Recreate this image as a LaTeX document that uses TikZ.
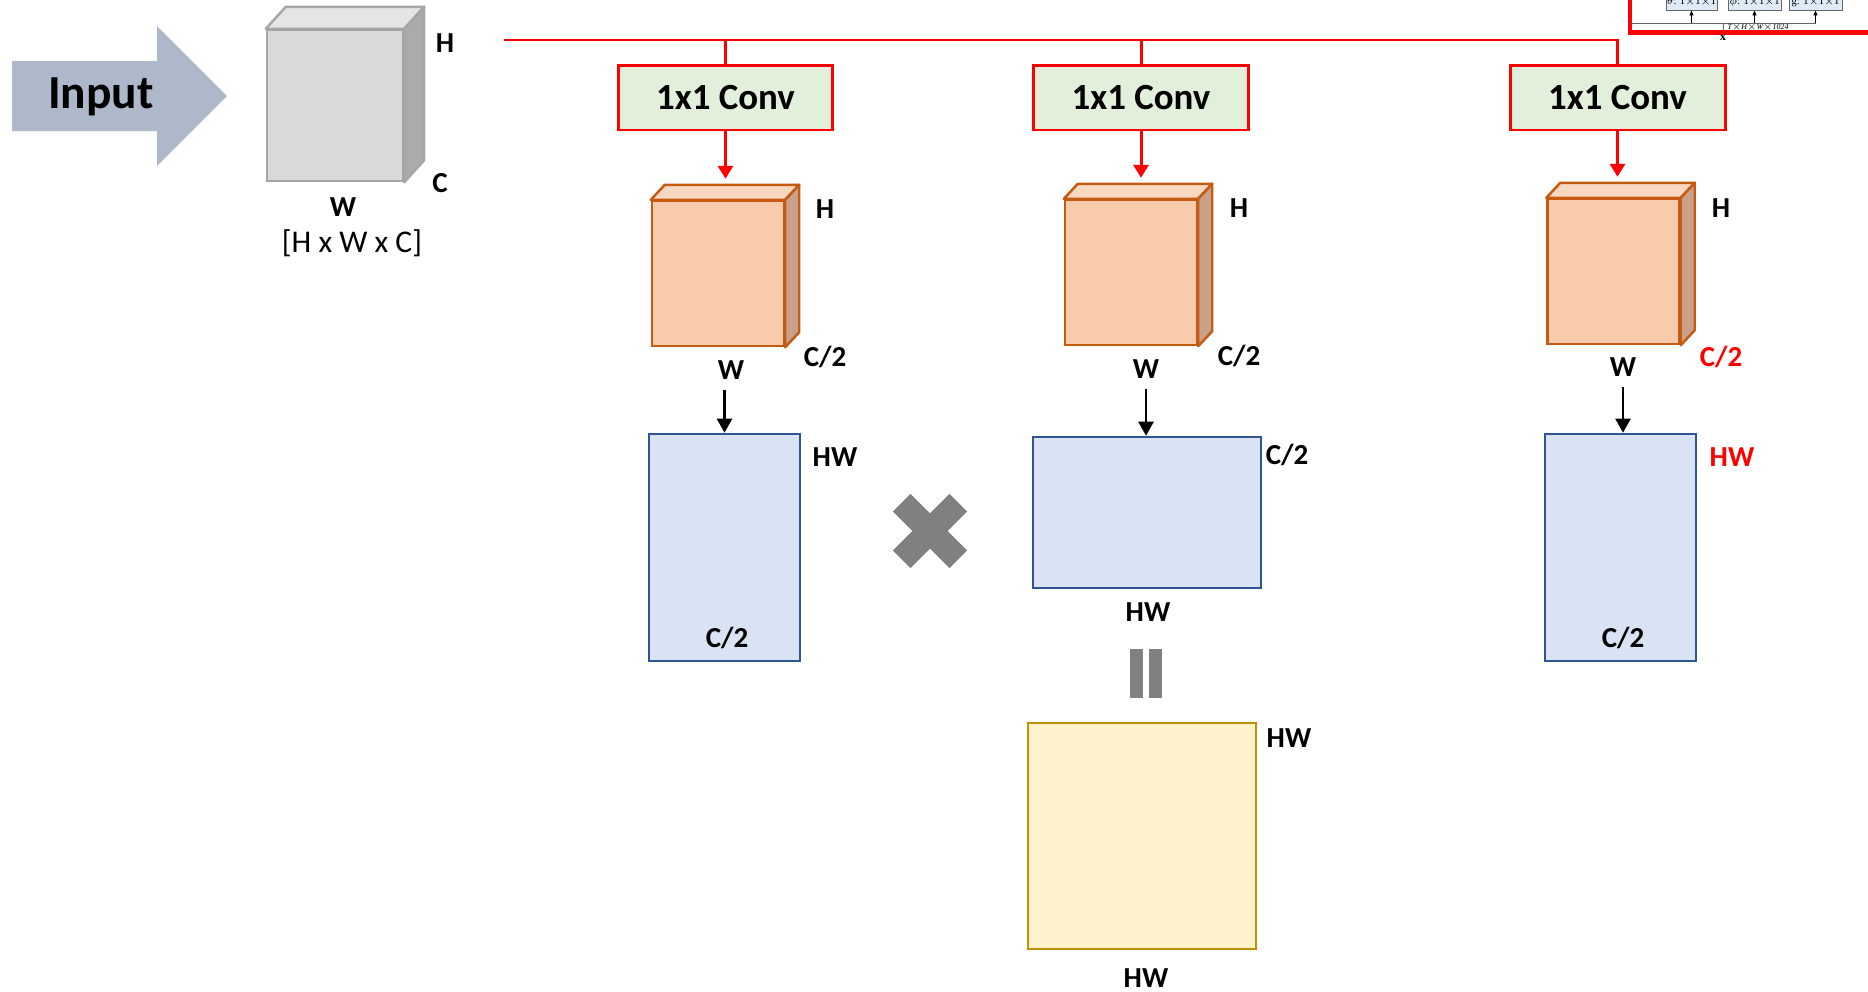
\documentclass[tikz,border=0pt]{standalone}
\usepackage{fontspec}
\setmainfont{Carlito}
\newfontfamily\insetfont{Liberation Serif}
\usetikzlibrary{positioning, calc, arrows.meta}

\definecolor{inputblue}{HTML}{ADB9CA}
\definecolor{convgreen}{HTML}{E2EFDA}
\definecolor{featorange}{HTML}{F8CBAD}
\definecolor{feattop}{HTML}{F9D8C1}
\definecolor{featside}{HTML}{C9A18A}
\definecolor{featedge}{HTML}{C55A11}
\definecolor{matblue}{HTML}{DAE3F3}
\definecolor{matedge}{HTML}{2F5597}
\definecolor{attnyellow}{HTML}{FFF2CC}
\definecolor{attnedge}{HTML}{BF9000}
\definecolor{signgray}{HTML}{808080}
\definecolor{insetblue}{HTML}{DEEBF7}

% top and side faces of a block, drawn on its front node
\newcommand{\cubefaces}[6]{%
  \filldraw[fill=#4, draw=#6, line width=1.4pt, line join=round]
    (#1.north west) -- ++(#2,#3) -- ($(#1.north east)+(#2,#3)$) -- (#1.north east) -- cycle;
  \filldraw[fill=#5, draw=#6, line width=1.4pt, line join=round]
    (#1.north east) -- ++(#2,#3) -- ($(#1.south east)+(#2,#3)$) -- (#1.south east) -- cycle;
}

\begin{document}
\begin{tikzpicture}[x=0.02cm, y=-0.02cm,
  lbl/.style={font=\fontsize{16.5}{19}\selectfont\bfseries, inner sep=0pt},
  conv/.style={draw=red, line width=1.7pt, fill=convgreen, minimum width=4.3cm,
    minimum height=1.3cm, inner sep=0pt, font=\fontsize{21}{24}\selectfont\bfseries},
  feat/.style={draw=featedge, fill=featorange, line width=1.4pt, minimum width=2.64cm,
    minimum height=2.9cm, inner sep=0pt},
  mat/.style={draw=matedge, fill=matblue, line width=1.5pt, inner sep=0pt},
  redline/.style={red, line width=1.7pt},
  redarrow/.style={red, line width=1.7pt, -{Triangle[width=0.3cm,length=0.26cm]}},
  blackarrow/.style={black, line width=1.4pt, -{Triangle[width=0.3cm,length=0.28cm]}},
  sign/.style={fill=signgray, inner sep=0pt}]
  \useasboundingbox (0,0) rectangle (1868,991);

  % input arrow and input block
  \fill[inputblue] (12,61) -- (157,61) -- (157,26) -- (227,96) -- (157,166) -- (157,131) -- (12,131) -- cycle;
  \node[font=\fontsize{27}{30}\selectfont\bfseries, inner sep=0pt] (input) at (101,97) {Input};

  \node[draw=black!35, fill=black!15, line width=1.4pt, minimum width=2.72cm,
    minimum height=3.02cm, inner sep=0pt] (in) at (335,105.5) {};
  \cubefaces{in}{20}{-22}{black!10}{black!33}{black!35}
  \node[lbl] (inH) at (445,43) {H};
  \node[lbl] (inC) at (440,183) {C};
  \node[lbl] (inW) at (343,207) {W};
  \node[font=\fontsize{18}{21}\selectfont, inner sep=0pt] (indim) at (352,243) {[H x W x C]};

  % three 1x1 convolutions
  \coordinate (split) at (504,40);
  \node[conv] (conv1) at (725.5,97.5) {1x1 Conv};
  \node[conv] (conv2) at (1141,97.5) {1x1 Conv};
  \node[conv] (conv3) at (1617.5,97.5) {1x1 Conv};

  \draw[redline] (split) -| (conv3.north);
  \draw[redline] (conv1.north) -- (conv1.north |- split);
  \draw[redline] (conv2.north) -- (conv2.north |- split);

  % feature blocks
  \node[feat] (f1) at (718,273.5) {};
  \node[feat] (f2) at (1131,272.5) {};
  \node[feat] (f3) at (1613.5,271.5) {};
  \cubefaces{f1}{14}{-15}{feattop}{featside}{featedge}
  \cubefaces{f2}{14}{-15}{feattop}{featside}{featedge}
  \cubefaces{f3}{14}{-15}{feattop}{featside}{featedge}

  \draw[redarrow, shorten >=0.42cm] (conv1.south) -- (conv1.south |- f1.north);
  \draw[redarrow, shorten >=0.42cm] (conv2.south) -- (conv2.south |- f2.north);
  \draw[redarrow, shorten >=0.42cm] (conv3.south) -- (conv3.south |- f3.north);

  \node[lbl] (f1H) at (825,209) {H};
  \node[lbl] (f1C) at (825,357) {C/2};
  \node[lbl] (f1W) at (731,370) {W};
  \node[lbl] (f2H) at (1239,208) {H};
  \node[lbl] (f2C) at (1239,356) {C/2};
  \node[lbl] (f2W) at (1146,369) {W};
  \node[lbl] (f3H) at (1721,208) {H};
  \node[lbl, text=red] (f3C) at (1721,357) {C/2};
  \node[lbl] (f3W) at (1623,367) {W};

  % reshaped matrices
  \node[mat, minimum width=3.02cm, minimum height=4.54cm] (m1) at (724.5,547.5) {};
  \node[mat, minimum width=4.56cm, minimum height=3.02cm] (m2) at (1147,512.5) {};
  \node[mat, minimum width=3.02cm, minimum height=4.54cm] (m3) at (1620.5,547.5) {};

  \draw[blackarrow, shorten <=0.2cm] (f1W.south -| m1.north) -- (m1.north);
  \draw[blackarrow, shorten <=0.2cm] (f2W.south) -- (f2W.south |- m2.north);
  \draw[blackarrow, shorten <=0.2cm] (f3W.south) -- (f3W.south |- m3.north);

  \node[lbl] (m1HW) at (835,457) {HW};
  \node[lbl] (m1C) at (727,638) {C/2};
  \node[lbl] (m2C) at (1287,455) {C/2};
  \node[lbl] (m2HW) at (1148,612) {HW};
  \node[lbl, text=red] (m3HW) at (1732,457) {HW};
  \node[lbl] (m3C) at (1623,638) {C/2};

  % product and result
  \node[sign, minimum width=1.6cm, minimum height=0.5cm, rotate=45] (times1) at (930,531) {};
  \node[sign, minimum width=1.6cm, minimum height=0.5cm, rotate=-45] (times2) at (930,531) {};
  \node[sign, minimum width=0.26cm, minimum height=0.98cm] (eq1) at (1136.5,673.5) {};
  \node[sign, minimum width=0.26cm, minimum height=0.98cm] (eq2) at (1155.5,673.5) {};

  \node[draw=attnedge, fill=attnyellow, line width=1.5pt, minimum width=4.56cm,
    minimum height=4.52cm, inner sep=0pt] (attn) at (1142,836) {};
  \node[lbl] (attnR) at (1289,738) {HW};
  \node[lbl] (attnB) at (1146,978) {HW};

  % corner of the non-local block
  \begin{scope}
    \clip (1590,0) rectangle (1868,60);
    \draw[red, line width=2.3pt] (1630,-10) |- (1880,32.5);
    \node[draw=black!60, fill=insetblue, line width=0.5pt, minimum width=1.02cm,
      minimum height=0.6cm, inner sep=0pt] (theta) at (1691.5,-5) {};
    \node[draw=black!60, fill=insetblue, line width=0.5pt, minimum width=1.06cm,
      minimum height=0.6cm, inner sep=0pt] (phi) at (1754.5,-5) {};
    \node[draw=black!60, fill=insetblue, line width=0.5pt, minimum width=1.06cm,
      minimum height=0.6cm, inner sep=0pt] (gee) at (1815.5,-5) {};
    \node[font=\insetfont\fontsize{6}{7}\selectfont, anchor=base, inner sep=0pt] (thetaT) at (1691.5,4) {$\theta$: 1$\times$1$\times$1};
    \node[font=\insetfont\fontsize{6}{7}\selectfont, anchor=base, inner sep=0pt] (phiT) at (1754.5,4) {$\phi$: 1$\times$1$\times$1};
    \node[font=\insetfont\fontsize{6}{7}\selectfont, anchor=base, inner sep=0pt] (geeT) at (1815.5,4) {g: 1$\times$1$\times$1};
    \coordinate (busL) at (1631,23);
    \coordinate (busR) at (1816,23);
    \coordinate (xin) at (1723,31);
    \draw[black!60, line width=0.5pt] (busL) -- (busR);
    \draw[black!60, line width=0.5pt] (xin) -- (xin |- busL);
    \draw[black, line width=0.5pt, -{Triangle[width=0.08cm,length=0.1cm]}] (theta.south |- busL) -- (theta.south);
    \draw[black, line width=0.5pt, -{Triangle[width=0.08cm,length=0.1cm]}] (phi.south |- busL) -- (phi.south);
    \draw[black, line width=0.5pt, -{Triangle[width=0.08cm,length=0.1cm]}] (gee.south |- busL) -- (gee.south);
    \node[font=\insetfont\itshape\fontsize{4.5}{5}\selectfont, inner sep=0pt] (size) at (1758,27.5) {T$\times$H$\times$W$\times$1024};
    \node[font=\insetfont\bfseries\fontsize{7}{8}\selectfont, inner sep=0pt] (xlbl) at (1723,37.5) {x};
  \end{scope}
\end{tikzpicture}
\end{document}
